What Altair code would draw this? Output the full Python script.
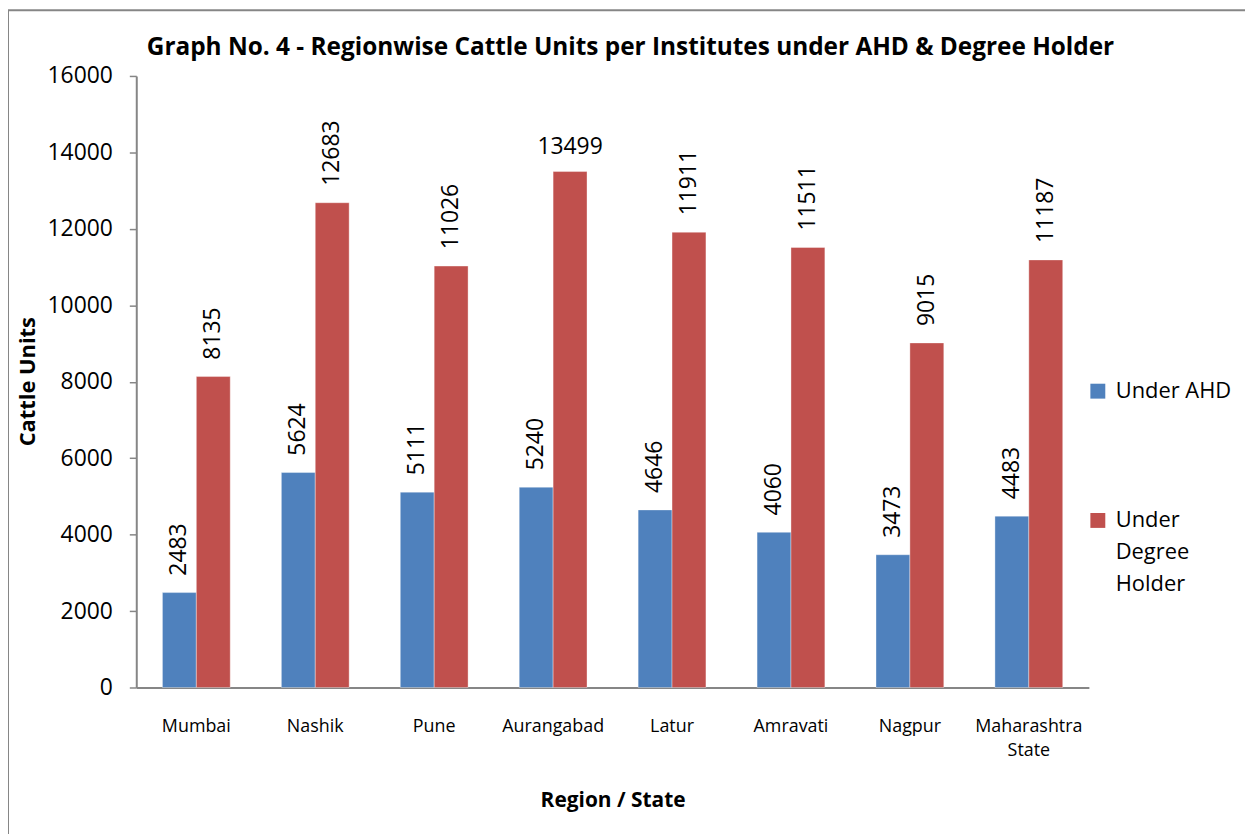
import altair as alt
import pandas as pd

regions = ["Mumbai", "Nashik", "Pune", "Aurangabad", "Latur", "Amravati", "Nagpur", "Maharashtra State"]
series_names = ["Under AHD", "Under Degree Holder"]
under_ahd = [2483, 5624, 5111, 5240, 4646, 4060, 3473, 4483]
under_degree = [8135, 12683, 11026, 13499, 11911, 11511, 9015, 11187]
y_ticks = [0, 2000, 4000, 6000, 8000, 10000, 12000, 14000, 16000]
colors = ["#4F81BD", "#C0504D"]
flat_labels = [("Aurangabad", "Under Degree Holder")]

rows = []
for r, a, d in zip(regions, under_ahd, under_degree):
    for s, v in zip(series_names, [a, d]):
        rows.append({"region": r, "series": s, "value": v, "flat": (r, s) in flat_labels})
df = pd.DataFrame(rows)

W, H = 958, 615
PAD = {"left": 129, "top": 66, "right": 157, "bottom": 145}
FONT = "Open Sans"
AXIS_GRAY = "#868686"

x_enc = alt.X(
    "region:N", sort=regions,
    scale=alt.Scale(paddingInner=0.43, paddingOuter=0.22),
    axis=alt.Axis(
        title="Region / State", labelAngle=0, ticks=False, tickSize=0,
        labelExpr="split(datum.label, ' ')", labelPadding=30, labelFontSize=18,
        labelLineHeight=24, labelColor="black", labelBaseline="top",
        titleFontSize=21, titleFontWeight="bold", titleColor="black",
        titleX=479, titleY=114, titleBaseline="middle", titleAlign="center",
        domainColor=AXIS_GRAY, domainWidth=2,
    ),
)
xoff_enc = alt.XOffset("series:N", sort=series_names, scale=alt.Scale(paddingInner=0, paddingOuter=0))
y_enc = alt.Y(
    "value:Q",
    scale=alt.Scale(domain=[0, 16000], nice=False),
    axis=alt.Axis(
        values=y_ticks, format="d", title="Cattle Units", grid=False,
        tickSize=7, tickColor=AXIS_GRAY, tickWidth=1.5,
        labelPadding=17, labelFontSize=23, labelColor="black",
        titleFontSize=22, titleFontWeight="bold", titleColor="black",
        titleX=-109, titleY=307, titleAngle=270, titleAlign="center", titleBaseline="middle",
        domainColor=AXIS_GRAY, domainWidth=2,
    ),
)

color_enc = alt.Color(
    "series:N", sort=series_names,
    scale=alt.Scale(domain=series_names, range=colors),
    legend=alt.Legend(
        title=None, orient="none", legendX=956, legendY=306, padding=0,
        symbolType="square", symbolSize=225, symbolStrokeWidth=0,
        labelFontSize=22, labelColor="black", labelOffset=7, labelLimit=0,
        rowPadding=108,
        labelExpr="indexof(datum.label, 'Degree') >= 0 ? split(datum.label, ' ') : datum.label",
    ),
)

base = alt.Chart(df)

bars = base.mark_bar(stroke="white", strokeWidth=0.8, strokeOpacity=0.45).encode(
    x=x_enc, xOffset=xoff_enc, y=y_enc, color=color_enc
)

labels_rot = base.transform_filter("!datum.flat").mark_text(
    angle=270, align="left", baseline="middle", yOffset=-17, fontSize=23, color="black", font=FONT
).encode(x=x_enc, xOffset=xoff_enc, y=y_enc, text=alt.Text("value:Q", format="d"))

labels_flat = base.transform_filter("datum.flat").mark_text(
    align="center", baseline="alphabetic", yOffset=-18, fontSize=23, color="black", font=FONT
).encode(x=x_enc, xOffset=xoff_enc, y=y_enc, text=alt.Text("value:Q", format="d"))

border = alt.Chart(pd.DataFrame({"k": [0]})).mark_rect(
    filled=False, stroke=AXIS_GRAY, strokeWidth=2
).encode(
    x=alt.value(-PAD["left"]), x2=alt.value(W + PAD["right"] + 20),
    y=alt.value(-PAD["top"]), y2=alt.value(H + PAD["bottom"] + 20),
)

chart = alt.layer(border, bars, labels_rot, labels_flat).properties(
    width=W, height=H,
    autosize=alt.AutoSizeParams(type="none"),
    padding=PAD,
    title=alt.Title(
        "Graph No. 4 - Regionwise Cattle Units per Institutes under AHD & Degree Holder",
        fontSize=24.5, fontWeight="bold", color="black", anchor="middle", frame="group",
        dx=18, dy=70, offset=0, baseline="alphabetic", font=FONT,
    ),
).configure(
    font=FONT, style={"guide-label": {"lineHeight": 32}}
).configure_view(stroke=None)

chart.save("out.html", embed_options={"renderer": "svg", "actions": False})
